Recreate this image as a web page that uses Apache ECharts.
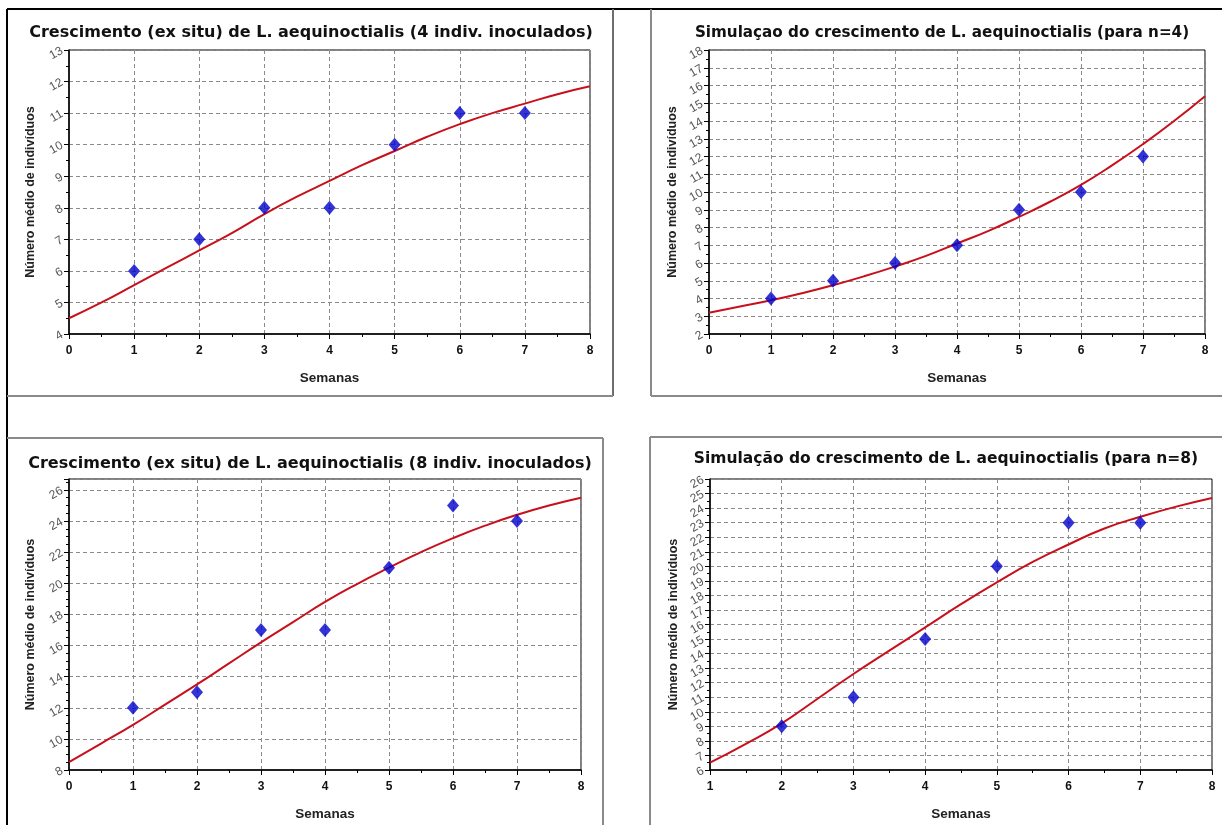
<!DOCTYPE html>
<html><head><meta charset="utf-8">
<script src="https://cdn.jsdelivr.net/npm/echarts@6/dist/echarts.min.js"></script>
<style>html,body{margin:0;padding:0;background:#fff}#c{width:1222px;height:825px}</style>
</head><body><div id="c"></div>
<script>
// ---- texts ----
const titles = [
  'Crescimento (ex situ) de L. aequinoctialis (4 indiv. inoculados)',
  'Simulaçao do crescimento de L. aequinoctialis (para n=4)',
  'Crescimento (ex situ) de L. aequinoctialis (8 indiv. inoculados)',
  'Simulação do crescimento de L. aequinoctialis (para n=8)'
];
const yAxisName = 'Número médio de indivíduos';
const xAxisName = 'Semanas';

// ---- panel 1: 4 inoculated, observed ----
const p1ObsWeeks = [1, 2, 3, 4, 5, 6, 7];
const p1Obs = [6, 7, 8, 8, 10, 11, 11];
const p1FitWeeks = [0, 0.5, 1, 1.5, 2, 2.5, 3, 3.5, 4, 4.5, 5, 5.5, 6, 6.5, 7, 7.5, 8];
const p1Fit = [4.5, 5.0, 5.55, 6.1, 6.65, 7.2, 7.8, 8.35, 8.85, 9.35, 9.8, 10.25, 10.65, 11.0, 11.3, 11.6, 11.85];

// ---- panel 2: simulation n=4 ----
const p2ObsWeeks = [1, 2, 3, 4, 5, 6, 7];
const p2Obs = [4, 5, 6, 7, 9, 10, 12];
const p2FitWeeks = [0, 0.5, 1, 1.5, 2, 2.5, 3, 3.5, 4, 4.5, 5, 5.5, 6, 6.5, 7, 7.5, 8];
const p2Fit = [3.2, 3.55, 3.9, 4.3, 4.75, 5.25, 5.8, 6.4, 7.1, 7.8, 8.6, 9.45, 10.4, 11.5, 12.7, 14.0, 15.4];

// ---- panel 3: 8 inoculated, observed ----
const p3ObsWeeks = [1, 2, 3, 4, 5, 6, 7];
const p3Obs = [12, 13, 17, 17, 21, 25, 24];
const p3FitWeeks = [0, 0.5, 1, 1.5, 2, 2.5, 3, 3.5, 4, 4.5, 5, 5.5, 6, 6.5, 7, 7.5, 8];
const p3Fit = [8.5, 9.7, 10.9, 12.2, 13.5, 14.85, 16.2, 17.5, 18.8, 19.95, 21.0, 22.0, 22.9, 23.7, 24.4, 25.0, 25.5];

// ---- panel 4: simulation n=8 ----
const p4ObsWeeks = [2, 3, 4, 5, 6, 7];
const p4Obs = [9, 11, 15, 20, 23, 23];
const p4FitWeeks = [1, 1.5, 2, 2.5, 3, 3.5, 4, 4.5, 5, 5.5, 6, 6.5, 7, 7.5, 8];
const p4Fit = [6.5, 7.8, 9.2, 10.9, 12.6, 14.2, 15.8, 17.4, 18.9, 20.3, 21.5, 22.6, 23.4, 24.1, 24.7];

// ---- axis ranges ----
const xMins = [0, 0, 0, 1];
const xMaxs = [8, 8, 8, 8];
const yMins = [4, 2, 8, 6];
const yMaxs = [13, 18, 26.7, 26];
const yIntervals = [1, 1, 2, 1];
const yMinorSplits = [2, 2, 4, 2];

const obsW = [p1ObsWeeks, p2ObsWeeks, p3ObsWeeks, p4ObsWeeks];
const obsV = [p1Obs, p2Obs, p3Obs, p4Obs];
const fitW = [p1FitWeeks, p2FitWeeks, p3FitWeeks, p4FitWeeks];
const fitV = [p1Fit, p2Fit, p3Fit, p4Fit];

const zip = (a, b) => a.map((v, i) => [v, b[i]]);

const grids = [
  {left: 69, top: 50, width: 521, height: 284},
  {left: 709, top: 50, width: 496, height: 284},
  {left: 69, top: 479, width: 512, height: 291},
  {left: 710, top: 479, width: 502, height: 291}
].map(g => Object.assign(g, {show: true, borderColor: '#000', borderWidth: 1, backgroundColor: '#fff', containLabel: false}));

const titleCenters = [[306, 20], [937, 21], [305, 451], [941, 446]];
const titleSizes = [16, 15.2, 16, 15.5];
const FONT = '"Liberation Sans", Arial, sans-serif';
const TFONT = '"DejaVu Sans", Verdana, sans-serif';

const dash = {show: true, lineStyle: {color: '#8a8a8a', type: [4, 3], width: 1}};

const xAxes = [0, 1, 2, 3].map(i => ({
  type: 'value', gridIndex: i, min: xMins[i], max: xMaxs[i], interval: 1,
  name: xAxisName, nameLocation: 'middle', nameGap: 37,
  nameTextStyle: {fontFamily: FONT, fontWeight: 'bold', fontSize: 13.5, color: '#222'},
  axisLine: {show: true, onZero: false, lineStyle: {color: '#000', width: 1.5}},
  axisTick: {show: true, length: 5, lineStyle: {color: '#000'}},
  minorTick: {show: true, splitNumber: 2, length: 3, lineStyle: {color: '#000'}},
  axisLabel: {fontFamily: FONT, fontWeight: 'bold', fontSize: 12, color: '#111', margin: 11},
  splitLine: dash
}));

const yAxes = [0, 1, 2, 3].map(i => ({
  type: 'value', gridIndex: i, min: yMins[i], max: yMaxs[i], interval: yIntervals[i],
  name: yAxisName, nameLocation: 'middle', nameGap: i % 2 === 0 ? 32 : 30,
  nameTextStyle: {fontFamily: FONT, fontWeight: 'bold', fontSize: 12.5, color: '#222'},
  axisLine: {show: true, onZero: false, lineStyle: {color: '#000', width: 1.5}},
  axisTick: {show: true, length: 5, lineStyle: {color: '#000'}},
  minorTick: {show: true, splitNumber: yMinorSplits[i], length: 3, lineStyle: {color: '#000'}},
  axisLabel: {fontFamily: FONT, fontSize: 12, color: '#555', margin: 7, rotate: 30, showMaxLabel: i !== 2},
  splitLine: dash
}));

const series = [];
for (let i = 0; i < 4; i++) {
  series.push({
    type: 'line', xAxisIndex: i, yAxisIndex: i, data: zip(fitW[i], fitV[i]),
    smooth: true, showSymbol: false, symbol: 'none',
    lineStyle: {color: '#c8101c', width: 2}, z: 3, silent: true
  });
  series.push({
    type: 'scatter', xAxisIndex: i, yAxisIndex: i, data: zip(obsW[i], obsV[i]),
    symbol: 'diamond', symbolSize: [12, 14],
    itemStyle: {color: '#0000cc'}, z: 4
  });
}

const L = (x1, y1, x2, y2, c, w) => ({type: 'line', shape: {x1, y1, x2, y2}, style: {stroke: c, lineWidth: w}, z: 100, silent: true});
const graphic = [
  L(7, 9, 1222, 9, '#000', 2),
  L(7, 9, 7, 825, '#000', 2),
  L(613, 9, 613, 396, '#6e6e6e', 2),
  L(7, 396, 613, 396, '#8a8a8a', 2),
  L(651, 9, 651, 396, '#8a8a8a', 2),
  L(651, 396, 1222, 396, '#8a8a8a', 2),
  L(7, 438, 603, 438, '#8a8a8a', 2),
  L(603, 438, 603, 825, '#8a8a8a', 2),
  L(650, 437, 1222, 437, '#8a8a8a', 2),
  L(650, 437, 650, 825, '#8a8a8a', 2)
];

const chart = echarts.init(document.getElementById('c'), null, {renderer: 'canvas'});
chart.setOption({
  animation: false,
  backgroundColor: '#fff',
  title: titles.map((t, i) => ({
    text: t, left: titleCenters[i][0], top: titleCenters[i][1], textAlign: 'center',
    textStyle: {fontFamily: TFONT, fontWeight: 'bold', fontSize: titleSizes[i], color: '#111'}
  })),
  grid: grids,
  xAxis: xAxes,
  yAxis: yAxes,
  series: series,
  graphic: graphic
});
</script>
</body></html>
